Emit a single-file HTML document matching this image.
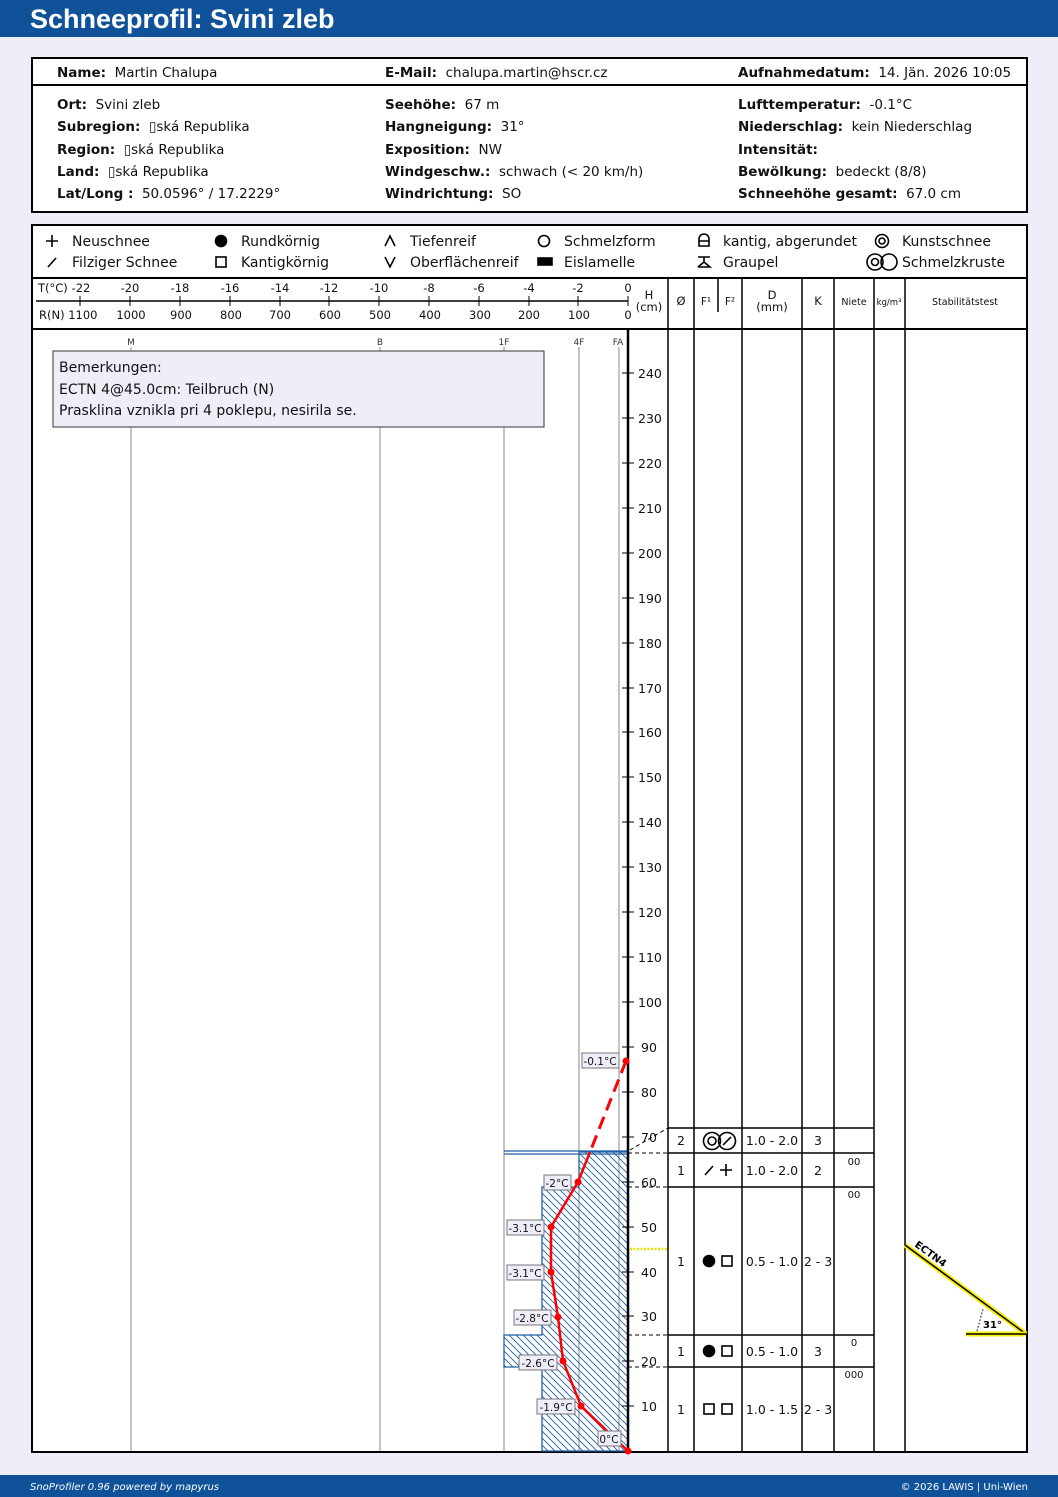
<!DOCTYPE html>
<html><head><meta charset="utf-8"><style>
html,body{margin:0;padding:0;background:#eeeef9;}
svg{display:block;font-family:"DejaVu Sans",sans-serif;}
</style></head><body>
<svg width="1058" height="1497" viewBox="0 0 1058 1497" xmlns="http://www.w3.org/2000/svg">
<defs>
<pattern id="h" width="7" height="7" patternUnits="userSpaceOnUse">
<path d="M-1,-1 L8,8 M-1,6 L1,8 M6,-1 L8,1" stroke="#1f5fa8" stroke-width="0.9"/>
</pattern>
</defs>
<rect width="1058" height="1497" fill="#eeeef9"/>
<rect width="1058" height="37" fill="#10529a"/>
<text x="30" y="28" font-size="27" font-weight="bold" fill="#fff" font-family="Liberation Sans, sans-serif">Schneeprofil: Svini zleb</text>

<rect x="32" y="58" width="995" height="154" fill="#fff" stroke="#000" stroke-width="2"/>
<line x1="32" y1="85" x2="1027" y2="85" stroke="#000" stroke-width="2"/>
<g font-size="13.5" fill="#111">
<text x="57" y="77"><tspan font-weight="bold">Name:</tspan>&#160; Martin Chalupa</text>
<text x="385" y="77"><tspan font-weight="bold">E-Mail:</tspan>&#160; chalupa.martin@hscr.cz</text>
<text x="738" y="77"><tspan font-weight="bold">Aufnahmedatum:</tspan>&#160; 14. Jän. 2026 10:05</text>
<text x="57" y="109"><tspan font-weight="bold">Ort:</tspan>&#160; Svini zleb</text>
<text x="57" y="131"><tspan font-weight="bold">Subregion:</tspan>&#160; ▯ská Republika</text>
<text x="57" y="154"><tspan font-weight="bold">Region:</tspan>&#160; ▯ská Republika</text>
<text x="57" y="176"><tspan font-weight="bold">Land:</tspan>&#160; ▯ská Republika</text>
<text x="57" y="198"><tspan font-weight="bold">Lat/Long :</tspan>&#160; 50.0596° / 17.2229°</text>
<text x="385" y="109"><tspan font-weight="bold">Seehöhe:</tspan>&#160; 67 m</text>
<text x="385" y="131"><tspan font-weight="bold">Hangneigung:</tspan>&#160; 31°</text>
<text x="385" y="154"><tspan font-weight="bold">Exposition:</tspan>&#160; NW</text>
<text x="385" y="176"><tspan font-weight="bold">Windgeschw.:</tspan>&#160; schwach (&lt; 20 km/h)</text>
<text x="385" y="198"><tspan font-weight="bold">Windrichtung:</tspan>&#160; SO</text>
<text x="738" y="109"><tspan font-weight="bold">Lufttemperatur:</tspan>&#160; -0.1°C</text>
<text x="738" y="131"><tspan font-weight="bold">Niederschlag:</tspan>&#160; kein Niederschlag</text>
<text x="738" y="154"><tspan font-weight="bold">Intensität:</tspan></text>
<text x="738" y="176"><tspan font-weight="bold">Bewölkung:</tspan>&#160; bedeckt (8/8)</text>
<text x="738" y="198"><tspan font-weight="bold">Schneehöhe gesamt:</tspan>&#160; 67.0 cm</text>
</g>

<rect x="32" y="225" width="995" height="1227" fill="#fff" stroke="#000" stroke-width="2"/>
<line x1="32" y1="278" x2="1027" y2="278" stroke="#000" stroke-width="2"/>
<line x1="32" y1="329" x2="1027" y2="329" stroke="#000" stroke-width="2"/>

<g font-size="14" fill="#111">
<text x="72" y="246">Neuschnee</text><text x="72" y="267">Filziger Schnee</text>
<text x="241" y="246">Rundkörnig</text><text x="241" y="267">Kantigkörnig</text>
<text x="410" y="246">Tiefenreif</text><text x="410" y="267">Oberflächenreif</text>
<text x="564" y="246">Schmelzform</text><text x="564" y="267">Eislamelle</text>
<text x="723" y="246">kantig, abgerundet</text><text x="723" y="267">Graupel</text>
<text x="902" y="246">Kunstschnee</text><text x="902" y="267">Schmelzkruste</text>
</g>
<g stroke="#000" stroke-width="1.6" fill="none">
<path d="M46,241 H58 M52,235 V247"/>
<path d="M48,267 L56,258"/>
<circle cx="221" cy="241" r="5.5" fill="#000"/>
<rect x="216" y="257" width="10" height="10"/>
<path d="M385,246 L390,236 L395,246"/>
<path d="M385,257 L390,267 L395,257"/>
<circle cx="544" cy="241" r="5.5"/>
<rect x="538" y="258" width="14" height="7" fill="#000"/>
<path d="M699,246 V239 A5,5 0 0 1 709,239 V246 Z M699,241 H709"/>
<path d="M698,257 H710 M704,257 V262 M698,267 L704,262 L710,267 H698"/>
<circle cx="882" cy="241" r="6.5"/><circle cx="882" cy="241" r="3"/>
<circle cx="875" cy="262" r="8"/><circle cx="889" cy="262" r="8"/><circle cx="875" cy="262" r="3.5"/>
</g>

<line x1="36" y1="301" x2="628" y2="301" stroke="#000" stroke-width="1.5"/>
<g font-size="11.5" fill="#111" text-anchor="middle">
<text x="38" y="292" text-anchor="start">T(°C)</text>
<text x="81" y="292">-22</text><text x="130" y="292">-20</text><text x="180" y="292">-18</text><text x="230" y="292">-16</text><text x="280" y="292">-14</text><text x="329" y="292">-12</text><text x="379" y="292">-10</text><text x="429" y="292">-8</text><text x="479" y="292">-6</text><text x="529" y="292">-4</text><text x="578" y="292">-2</text><text x="628" y="292">0</text>
<text x="39" y="319" text-anchor="start">R(N) 1100</text>
<text x="131" y="319">1000</text><text x="181" y="319">900</text><text x="231" y="319">800</text><text x="280" y="319">700</text><text x="330" y="319">600</text><text x="380" y="319">500</text><text x="430" y="319">400</text><text x="480" y="319">300</text><text x="529" y="319">200</text><text x="579" y="319">100</text><text x="628" y="319">0</text>
<text x="649" y="299">H</text><text x="649" y="311">(cm)</text>
<text x="681" y="305">Ø</text><text x="706" y="305" font-size="10.5">F¹</text><text x="730" y="305" font-size="10.5">F²</text>
<text x="772" y="299">D</text><text x="772" y="311">(mm)</text>
<text x="818" y="305">K</text>
<text x="854" y="305" font-size="9.5">Niete</text><text x="889" y="305" font-size="8.5">kg/m³</text>
<text x="965" y="305" font-size="9.5">Stabilitätstest</text>
</g>
<g stroke="#000" stroke-width="1">
<path d="M80,296 V306 M130,296 V306 M180,296 V306 M230,296 V306 M280,296 V306 M329,296 V306 M379,296 V306 M429,296 V306 M479,296 V306 M529,296 V306 M578,296 V306 M628,296 V306"/>
</g>

<g stroke="#000" stroke-width="1.5">
<line x1="668" y1="278" x2="668" y2="1452"/>
<line x1="694" y1="278" x2="694" y2="1452"/>
<line x1="718" y1="278" x2="718" y2="312"/>
<line x1="742" y1="278" x2="742" y2="1452"/>
<line x1="802" y1="278" x2="802" y2="1452"/>
<line x1="834" y1="278" x2="834" y2="1452"/>
<line x1="874" y1="278" x2="874" y2="1452"/>
<line x1="905" y1="278" x2="905" y2="1452"/>
</g>

<g stroke="#888" stroke-width="1">
<line x1="131" y1="347" x2="131" y2="1451"/>
<line x1="380" y1="347" x2="380" y2="1451"/>
<line x1="504" y1="347" x2="504" y2="1451"/>
<line x1="579" y1="347" x2="579" y2="1451"/>
<line x1="619" y1="347" x2="619" y2="1451"/>
</g>
<g font-size="9" fill="#333" text-anchor="middle">
<text x="131" y="345">M</text><text x="380" y="345">B</text><text x="504" y="345">1F</text><text x="579" y="345">4F</text><text x="618" y="345">FA</text>
</g>

<rect x="53" y="351" width="491" height="76" fill="#eeeef9" stroke="#555" stroke-width="1.2"/>
<g font-size="14" fill="#111">
<text x="59" y="372">Bemerkungen:</text>
<text x="59" y="394">ECTN 4@45.0cm: Teilbruch (N)</text>
<text x="59" y="415">Prasklina vznikla pri 4 poklepu, nesirila se.</text>
</g>

<path d="M628,1152 H579 V1187 H542 V1335 H504 V1367 H542 V1451 H628 Z" fill="url(#h)" stroke="#1f5fa8" stroke-width="1.3"/>
<line x1="504" y1="1151" x2="628" y2="1151" stroke="#1f5fa8" stroke-width="1.2"/>
<line x1="504" y1="1154" x2="628" y2="1154" stroke="#1f5fa8" stroke-width="1.2"/>

<line x1="628" y1="329" x2="628" y2="1451" stroke="#000" stroke-width="2.5"/>
<g stroke="#000" stroke-width="1">
<path d="M622,1406 H634 M622,1361 H634 M622,1316 H634 M622,1272 H634 M622,1227 H634 M622,1182 H634 M622,1137 H634 M622,1092 H634 M622,1047 H634 M622,1002 H634 M622,957 H634 M622,912 H634 M622,867 H634 M622,822 H634 M622,777 H634 M622,732 H634 M622,688 H634 M622,643 H634 M622,598 H634 M622,553 H634 M622,508 H634 M622,463 H634 M622,418 H634 M622,373 H634"/>
</g>
<g font-size="12.5" fill="#111">
<text x="641" y="1411">10</text><text x="641" y="1366">20</text><text x="641" y="1321">30</text><text x="641" y="1277">40</text><text x="641" y="1232">50</text><text x="641" y="1187">60</text><text x="641" y="1142">70</text><text x="641" y="1097">80</text><text x="641" y="1052">90</text>
<text x="638" y="1007">100</text><text x="638" y="962">110</text><text x="638" y="917">120</text><text x="638" y="872">130</text><text x="638" y="827">140</text><text x="638" y="782">150</text><text x="638" y="737">160</text><text x="638" y="693">170</text><text x="638" y="648">180</text><text x="638" y="603">190</text><text x="638" y="558">200</text><text x="638" y="513">210</text><text x="638" y="468">220</text><text x="638" y="423">230</text><text x="638" y="378">240</text>
</g>

<g stroke="#000" stroke-width="1.5">
<line x1="668" y1="1128" x2="874" y2="1128"/>
<line x1="668" y1="1153" x2="874" y2="1153"/>
<line x1="668" y1="1187" x2="874" y2="1187"/>
<line x1="668" y1="1335" x2="874" y2="1335"/>
<line x1="668" y1="1367" x2="874" y2="1367"/>
</g>
<g stroke="#000" stroke-width="1" stroke-dasharray="4,3" fill="none">
<path d="M628,1153 H668 M628,1187 H668 M628,1335 H668 M628,1367 H668 M630,1150 L668,1128"/>
</g>
<line x1="630" y1="1249" x2="668" y2="1249" stroke="#e8e000" stroke-width="2.5" stroke-dasharray="2,1.5"/>
<g font-size="12.5" fill="#111" text-anchor="middle">
<text x="681" y="1145">2</text><text x="772" y="1145">1.0 - 2.0</text><text x="818" y="1145">3</text>
<text x="681" y="1175">1</text><text x="772" y="1175">1.0 - 2.0</text><text x="818" y="1175">2</text>
<text x="681" y="1266">1</text><text x="772" y="1266">0.5 - 1.0</text><text x="818" y="1266">2 - 3</text>
<text x="681" y="1356">1</text><text x="772" y="1356">0.5 - 1.0</text><text x="818" y="1356">3</text>
<text x="681" y="1414">1</text><text x="772" y="1414">1.0 - 1.5</text><text x="818" y="1414">2 - 3</text>
<g font-size="10"><text x="854" y="1165">00</text><text x="854" y="1198">00</text><text x="854" y="1346">0</text><text x="854" y="1378">000</text></g>
</g>
<g stroke="#000" stroke-width="1.6" fill="none">
<circle cx="712" cy="1141" r="8.5"/><circle cx="727" cy="1141" r="8.5"/><circle cx="712" cy="1141" r="4"/><path d="M723,1145 L731,1137"/>
<path d="M705,1175 L713,1166 M720,1170 H732 M726,1164 V1176"/>
<circle cx="709" cy="1261" r="5.5" fill="#000"/><rect x="722" y="1256" width="10" height="10"/>
<circle cx="709" cy="1351" r="5.5" fill="#000"/><rect x="722" y="1346" width="10" height="10"/>
<rect x="704" y="1404" width="10" height="10"/><rect x="722" y="1404" width="10" height="10"/>
</g>

<path d="M626,1061 L590,1152" stroke="#f00" stroke-width="3" stroke-dasharray="13,7" fill="none"/>
<path d="M590,1152 L578,1182 L551,1227 L551,1272 L558,1317 L563,1361 L581,1406 L628,1451" stroke="#f00" stroke-width="2.5" fill="none"/>
<g fill="#f00">
<circle cx="626" cy="1061" r="3.5"/><circle cx="578" cy="1182" r="3.5"/><circle cx="551" cy="1227" r="3.5"/><circle cx="551" cy="1272" r="3.5"/><circle cx="558" cy="1317" r="3.5"/><circle cx="563" cy="1361" r="3.5"/><circle cx="581" cy="1406" r="3.5"/><circle cx="628" cy="1451" r="3.5"/>
</g>
<g fill="#eeeef9" stroke="#777" stroke-width="1">
<rect x="582" y="1053" width="37" height="15"/>
<rect x="544" y="1175" width="27" height="15"/>
<rect x="507" y="1220" width="37" height="15"/>
<rect x="507" y="1265" width="37" height="15"/>
<rect x="514" y="1310" width="37" height="15"/>
<rect x="519" y="1355" width="38" height="15"/>
<rect x="537" y="1399" width="38" height="15"/>
<rect x="598" y="1431" width="23" height="15"/>
</g>
<g font-size="10.5" fill="#111" text-anchor="middle">
<text x="600" y="1065">-0.1°C</text><text x="557" y="1187">-2°C</text><text x="525" y="1232">-3.1°C</text><text x="525" y="1277">-3.1°C</text><text x="532" y="1322">-2.8°C</text><text x="538" y="1367">-2.6°C</text><text x="556" y="1411">-1.9°C</text><text x="609" y="1443">0°C</text>
</g>

<line x1="905" y1="1245" x2="1026" y2="1334" stroke="#f5ee00" stroke-width="5"/>
<line x1="905" y1="1245" x2="1026" y2="1334" stroke="#000" stroke-width="1.5"/>
<line x1="966" y1="1334" x2="1026" y2="1334" stroke="#f5ee00" stroke-width="5"/>
<line x1="966" y1="1334" x2="1026" y2="1334" stroke="#000" stroke-width="1.5"/>
<path d="M977,1331 L983,1309" stroke="#000" stroke-width="1" stroke-dasharray="1.5,2" fill="none"/>
<text x="983" y="1328" font-size="10" font-weight="bold">31°</text>
<text x="914" y="1246" font-size="10" font-weight="bold" transform="rotate(36 914 1246)">ECTN4</text>

<rect x="0" y="1475" width="1058" height="22" fill="#10529a"/>
<text x="30" y="1490" font-size="10" font-style="italic" fill="#fff">SnoProfiler 0.96 powered by mapyrus</text>
<text x="1028" y="1490" font-size="10" fill="#fff" text-anchor="end">© 2026 LAWIS | Uni-Wien</text>
</svg>
</body></html>
